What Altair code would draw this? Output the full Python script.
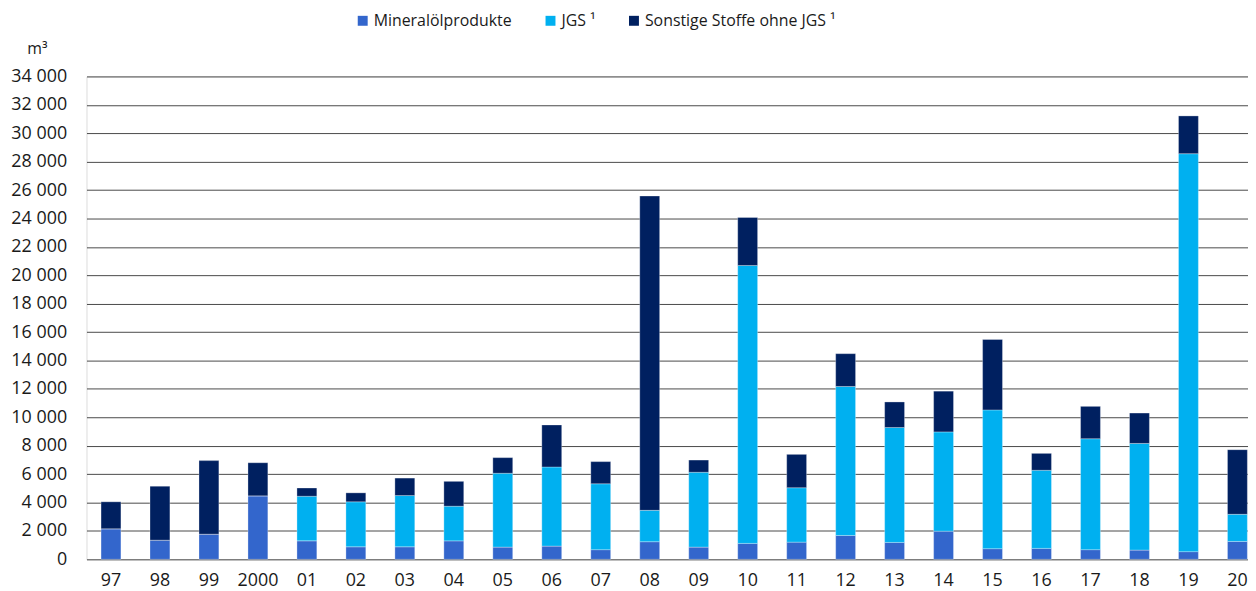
import altair as alt
import pandas as pd

years = ["97", "98", "99", "2000", "01", "02", "03", "04", "05", "06", "07", "08",
         "09", "10", "11", "12", "13", "14", "15", "16", "17", "18", "19", "20"]
mineral = [2150, 1350, 1770, 4470, 1300, 880, 880, 1300, 860, 930, 680, 1240,
           860, 1120, 1210, 1680, 1190, 1980, 750, 770, 680, 650, 540, 1260]
jgs = [0, 0, 0, 0, 3140, 3170, 3610, 2440, 5200, 5570, 4640, 2210,
       5270, 19570, 3830, 10490, 8090, 6990, 9770, 5500, 7810, 7510, 28020, 1910]
sonstige = [1900, 3800, 5180, 2330, 580, 630, 1230, 1750, 1100, 2960, 1560, 22130,
            860, 3380, 2350, 2310, 1800, 2870, 4960, 1190, 2280, 2140, 2660, 4550]

series = ["Mineralölprodukte", "JGS ¹", "Sonstige Stoffe ohne JGS ¹"]
colors = ["#3366cc", "#00b0f0", "#002060"]

rows = []
for i, y in enumerate(years):
    for k, (name, vals) in enumerate(zip(series, [mineral, jgs, sonstige])):
        rows.append({"Jahr": y, "Kategorie": name, "Wert": vals[i], "ord": k})
df = pd.DataFrame(rows)

FONT = "Open Sans"

chart = alt.Chart(df).mark_bar(stroke="#ffffff", strokeWidth=0.5, strokeOpacity=0.6).encode(
    x=alt.X("Jahr:N", sort=years,
            scale=alt.Scale(range=[0, 1183], paddingInner=0.594, paddingOuter=0.297),
            axis=alt.Axis(title=None, labelAngle=0, domain=False, ticks=False, tickSize=0,
                          labelPadding=12, labelFontSize=18, labelColor="#1a1a1a",
                          labelFont=FONT, grid=False)),
    y=alt.Y("Wert:Q", stack="zero",
            scale=alt.Scale(domain=[0, 34000], nice=False),
            axis=alt.Axis(values=list(range(0, 34001, 2000)), title="m³", titleAngle=0,
                          titleX=-50, titleY=-28, titleAlign="center", titleBaseline="middle",
                          titleFontSize=16, titleFontWeight="normal", titleFont=FONT,
                          titleColor="#1a1a1a",
                          labelExpr="replace(format(datum.value, ','), /,/g, ' ')",
                          labelFontSize=18, labelFont=FONT, labelColor="#1a1a1a",
                          labelPadding=20, ticks=False, tickSize=0, domain=False,
                          grid=True, gridColor="#4a4a4a", gridWidth=1)),
    color=alt.Color("Kategorie:N", sort=series,
                    scale=alt.Scale(domain=series, range=colors),
                    legend=alt.Legend(title=None, orient="none", legendX=270, legendY=-64,
                                      direction="horizontal", symbolType="square",
                                      symbolSize=100, symbolStrokeWidth=0,
                                      labelFontSize=16, labelFont=FONT, labelColor="#1a1a1a",
                                      labelOffset=3, columnPadding=30, padding=0,
                                      labelLimit=400)),
    order=alt.Order("ord:Q", sort="ascending"),
).properties(
    width=1169, height=486,
    autosize=alt.AutoSizeParams(type="none"),
    padding={"left": 79, "top": 67, "right": 0, "bottom": 30},
).configure_view(stroke=None).configure(background="#ffffff")

chart.save("out.html", embed_options={"renderer": "svg", "actions": False})
